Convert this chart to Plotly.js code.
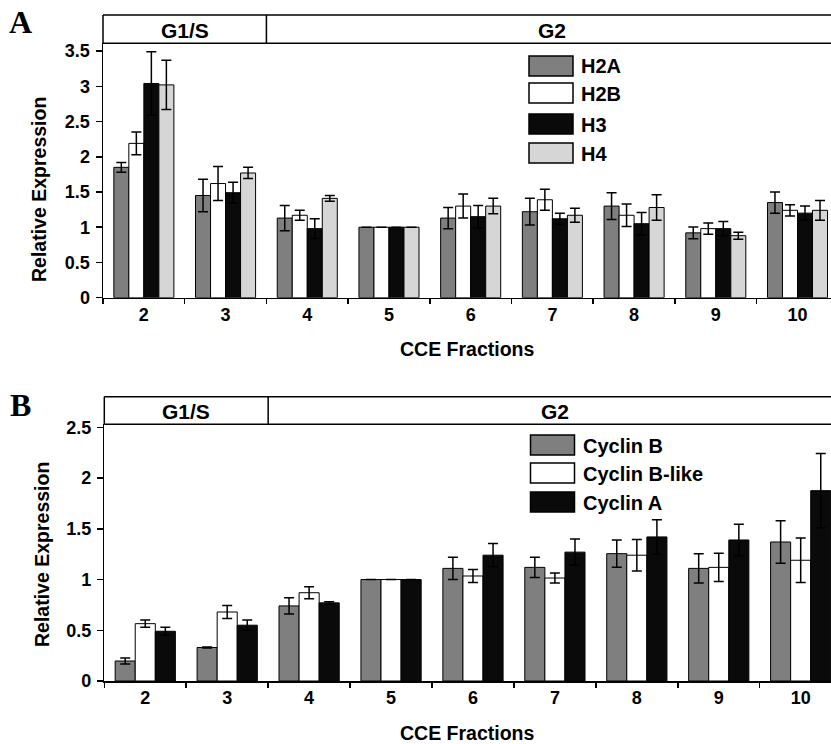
<!DOCTYPE html>
<html>
<head>
<meta charset="utf-8">
<script src="https://cdn.plot.ly/plotly-3.0.1.min.js"></script>
<style>html,body{margin:0;padding:0;background:#fff;}#chart{width:831px;height:744px;}</style>
</head>
<body>
<div id="chart"></div>
<script>
// ---- Data ----
const fractions = ["2","3","4","5","6","7","8","9","10"];

const histNames  = ["H2A","H2B","H3","H4"];
const histColors = ["#7f7f7f","#ffffff","#0a0a0a","#d6d6d6"];
const h2a    = [1.85,1.45,1.13,1.00,1.13,1.22,1.30,0.92,1.35];
const h2aErr = [0.07,0.23,0.18,0,0.15,0.19,0.19,0.085,0.15];
const h2b    = [2.19,1.62,1.17,1.00,1.30,1.39,1.17,0.98,1.24];
const h2bErr = [0.16,0.24,0.07,0,0.17,0.15,0.16,0.08,0.08];
const h3     = [3.04,1.49,0.98,1.00,1.15,1.12,1.05,0.98,1.20];
const h3Err  = [0.45,0.15,0.14,0,0.16,0.08,0.16,0.10,0.10];
const h4     = [3.02,1.77,1.41,1.00,1.30,1.17,1.28,0.88,1.24];
const h4Err  = [0.35,0.08,0.04,0,0.11,0.10,0.18,0.05,0.14];

const cycNames  = ["Cyclin B","Cyclin B-like","Cyclin A"];
const cycColors = ["#7f7f7f","#ffffff","#0a0a0a"];
const cycB      = [0.197,0.33,0.74,1.00,1.11,1.12,1.255,1.11,1.37];
const cycBErr   = [0.03,0.005,0.08,0,0.11,0.10,0.135,0.145,0.21];
const cycBL     = [0.565,0.68,0.87,1.00,1.035,1.015,1.24,1.12,1.19];
const cycBLErr  = [0.035,0.065,0.06,0,0.065,0.05,0.155,0.14,0.22];
const cycA      = [0.49,0.55,0.77,1.00,1.24,1.27,1.42,1.39,1.876];
const cycAErr   = [0.04,0.05,0.01,0,0.115,0.13,0.17,0.155,0.365];

const phaseLabels = ["G1/S","G2"];
const yTicksA = [0,0.5,1,1.5,2,2.5,3,3.5];
const yTicksB = [0,0.5,1,1.5,2,2.5];

// ---- Styling helpers ----
const FONT = "Liberation Sans, Arial, Helvetica, sans-serif";
const W = 831, H = 744;
const px = v => v / W;             // x pixel -> paper
const py = v => 1 - v / H;         // y pixel -> paper

function barTrace(name, color, y, err, xa, ya) {
  return {
    type: "bar", name: name, x: fractions, y: y,
    xaxis: xa, yaxis: ya, showlegend: false,
    marker: {color: color, line: {color: "#000", width: 1}},
    error_y: {type: "data", array: err, visible: true, color: "#000", thickness: 1.5, width: 5}
  };
}

const histY = [h2a,h2b,h3,h4], histE = [h2aErr,h2bErr,h3Err,h4Err];
const cycY = [cycB,cycBL,cycA], cycE = [cycBErr,cycBLErr,cycAErr];

const traces = [];
histNames.forEach((n,i) => traces.push(barTrace(n, histColors[i], histY[i], histE[i], "x", "y")));
cycNames.forEach((n,i) => traces.push(barTrace(n, cycColors[i], cycY[i], cycE[i], "x2", "y2")));

// panel geometry (pixels)
const A = {left:103, top:43.3, bottom:297.7, headTop:15};
const B = {left:104.3, top:424.3, bottom:681, headTop:396.7};

const tickFont = {family: FONT, size: 18, color: "#000", weight: 700};

function xAxis(domL, range, anchor) {
  return {
    domain: [px(domL), 1], anchor: anchor, type: "category", range: range,
    tickson: "boundaries", ticks: "outside", ticklen: 5, tickwidth: 1.5, tickcolor: "#000",
    showline: true, linecolor: "#000", linewidth: 1.5, showgrid: false, zeroline: false,
    tickfont: tickFont, fixedrange: true
  };
}
function yAxis(geo, range, tv, anchor) {
  return {
    domain: [py(geo.bottom), py(geo.top)], anchor: anchor, range: range,
    tickvals: tv, ticktext: tv.map(String), ticks: "outside", ticklen: 6, tickwidth: 1.5, tickcolor: "#000",
    showline: true, linecolor: "#000", linewidth: 1.5, showgrid: false, zeroline: false,
    tickfont: tickFont, ticklabelstandoff: 2, fixedrange: true
  };
}

const shapes = [];
const annotations = [];

function header(geo, xref) {
  shapes.push({type:"line", xref:"paper", yref:"paper", x0:px(geo.left), x1:1.01, y0:py(geo.headTop), y1:py(geo.headTop), line:{color:"#000", width:1.5}});
  shapes.push({type:"line", xref:"paper", yref:"paper", x0:px(geo.left), x1:1.01, y0:py(geo.top), y1:py(geo.top), line:{color:"#000", width:1.5}});
  shapes.push({type:"line", xref:"paper", yref:"paper", x0:px(geo.left), x1:px(geo.left), y0:py(geo.headTop), y1:py(geo.top), line:{color:"#000", width:1.5}});
  shapes.push({type:"line", xref:xref, yref:"paper", x0:1.5, x1:1.5, y0:py(geo.headTop), y1:py(geo.top), line:{color:"#000", width:1.5}});
  const yc = py((geo.headTop + geo.top)/2 + 1);
  annotations.push({xref:xref, yref:"paper", x:0.5, y:yc, text:phaseLabels[0], showarrow:false, font:{family:FONT, size:21, color:"#000", weight:700}, yanchor:"middle"});
  annotations.push({xref:xref, yref:"paper", x:5, y:yc, text:phaseLabels[1], showarrow:false, font:{family:FONT, size:21, color:"#000", weight:700}, yanchor:"middle"});
}
header(A, "x");
header(B, "x2");

function legend(names, colors, boxL, rowTops) {
  names.forEach((n,i) => {
    const t = rowTops[i];
    shapes.push({type:"rect", xref:"paper", yref:"paper", x0:px(boxL), x1:px(boxL+44), y0:py(t+20), y1:py(t), fillcolor:colors[i], line:{color:"#000", width:1.5}});
    annotations.push({xref:"paper", yref:"paper", x:px(boxL+50), y:py(t+10.5), text:n, showarrow:false, xanchor:"left", yanchor:"middle", font:{family:FONT, size:20, color:"#000", weight:700}});
  });
}
legend(histNames, histColors, 529, [56, 83, 114, 143]);
legend(cycNames, cycColors, 530.5, [435, 463, 492]);

function txt(x, y, text, size, extra) {
  annotations.push(Object.assign({xref:"paper", yref:"paper", x:px(x), y:py(y), text:text, showarrow:false, xanchor:"center", yanchor:"middle", font:{family:FONT, size:size, color:"#000", weight:700}}, extra||{}));
}
txt(39, 190, "Relative Expression", 19.5, {textangle:-90});
txt(42, 555, "Relative Expression", 19.5, {textangle:-90});
txt(467, 349, "CCE Fractions", 19.5);
txt(467, 733, "CCE Fractions", 19.5);
txt(20, 22, "A", 32, {font:{family:"Liberation Serif, Times New Roman, serif", size:32, color:"#000", weight:700}});
txt(20, 405, "B", 32, {font:{family:"Liberation Serif, Times New Roman, serif", size:32, color:"#000", weight:700}});

const layout = {
  width: W, height: H,
  margin: {l:0, r:0, t:0, b:0},
  paper_bgcolor: "#fff", plot_bgcolor: "#fff",
  barmode: "group", bargap: 0.265, bargroupgap: 0,
  showlegend: false,
  xaxis: xAxis(A.left, [-0.5, 8.41], "y"),
  yaxis: yAxis(A, [0, 3.61], yTicksA, "x"),
  xaxis2: xAxis(B.left, [-0.5, 8.37], "y2"),
  yaxis2: yAxis(B, [0, 2.53], yTicksB, "x2"),
  shapes: shapes,
  annotations: annotations
};

Plotly.newPlot("chart", traces, layout, {staticPlot: true, displayModeBar: false});
</script>
</body>
</html>
